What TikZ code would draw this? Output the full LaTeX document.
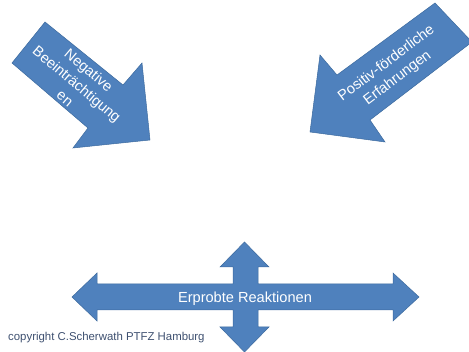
\documentclass[tikz,border=0pt]{standalone}
\usepackage{fontspec}
\setmainfont{Liberation Sans}
\definecolor{arrowblue}{HTML}{4F81BD}
\definecolor{arrowedge}{HTML}{3C6A9E}
\definecolor{notegray}{HTML}{3E5070}
\begin{document}
\begin{tikzpicture}[x=1pt,y=-1pt,
  blockarrow/.style={fill=arrowblue,draw=arrowedge,line width=0.5pt,line join=miter},
  arrowlabel/.style={text=white,align=center,inner sep=0pt,font=\fontsize{14.6}{18.5}\selectfont}]
\useasboundingbox (0,0) rectangle (469,352);
\clip (0,0) rectangle (469,352);
% arrow from the upper left
\draw[blockarrow] (45,22) -- (123,85) -- (142,63) -- (150,140) -- (73,148) -- (88,128) -- (12,63) -- cycle;
\node[arrowlabel,rotate=-40] (neg) at (77,84) {Negative\\Beeinträchtigung\\en};
% arrow from the upper right
\draw[blockarrow] (435,3) -- (472,42) -- (370,120) -- (385,142) -- (310,132) -- (320,55) -- (337,75) -- cycle;
\node[arrowlabel,rotate=37] (pos) at (392,71) {Positiv-förderliche\\Erfahrungen};
% cross arrow at the bottom
\draw[blockarrow] (72,297) -- (97,273) -- (97,284) -- (233,284) -- (233,267) -- (220,267) -- (244.5,242)
  -- (269,267) -- (258,267) -- (258,284) -- (393,284) -- (393,273) -- (419,297) -- (393,321)
  -- (393,310) -- (258,310) -- (258,327) -- (269,327) -- (244.5,352) -- (220,327) -- (233,327)
  -- (233,310) -- (97,310) -- (97,321) -- cycle;
\node[arrowlabel,anchor=base] (react) at (245,303) {Erprobte Reaktionen};
\node[anchor=base west,inner sep=0pt,text=notegray,font=\fontsize{11.4}{13}\selectfont] (note) at (8,341) {copyright C.Scherwath PTFZ Hamburg};
\end{tikzpicture}
\end{document}
